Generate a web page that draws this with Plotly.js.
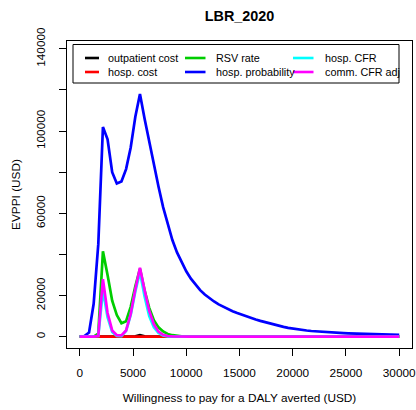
<!DOCTYPE html>
<html>
<head>
<meta charset="utf-8">
<script src="https://cdn.plot.ly/plotly-3.0.1.min.js"></script>
<style>
  html, body { margin: 0; padding: 0; background: #ffffff; }
  #chart { width: 416px; height: 410px; }
</style>
</head>
<body>
<div id="chart"></div>
<script>
// Willingness-to-pay grid (USD per DALY averted)
const wtp = [
  0, 435, 870, 1304, 1739, 2174, 2609, 3043, 3478, 3913,
  4348, 4783, 5217, 5652, 6087, 6522, 6957, 7391, 7826, 8261,
  8696, 9130, 9565, 10000, 10435, 10870, 11304, 11739, 12174, 12609,
  13043, 13478, 13913, 14348, 14783, 15217, 15652, 16087, 16522, 16957,
  17391, 17826, 18261, 18696, 19130, 19565, 20000, 20435, 20870, 21304,
  21739, 22174, 22609, 23043, 23478, 23913, 24348, 24783, 25217, 25652,
  26087, 26522, 26957, 27391, 27826, 28261, 28696, 29130, 29565, 30000
];

// EVPPI (USD) per parameter group
const outpatientCost = [
  0, 0, 0, 0, 0, 0, 0, 0, 0, 0,
  0, 0, 150, 700, 150, 0, 0, 0, 0, 0,
  0, 0, 0, 0, 0, 0, 0, 0, 0, 0,
  0, 0, 0, 0, 0, 0, 0, 0, 0, 0,
  0, 0, 0, 0, 0, 0, 0, 0, 0, 0,
  0, 0, 0, 0, 0, 0, 0, 0, 0, 0,
  0, 0, 0, 0, 0, 0, 0, 0, 0, 0
];
const hospCost = [
  0, 0, 0, 0, 0, 0, 0, 0, 0, 0,
  0, 0, 0, 0, 0, 0, 0, 0, 0, 0,
  0, 0, 0, 0, 0, 0, 0, 0, 0, 0,
  0, 0, 0, 0, 0, 0, 0, 0, 0, 0,
  0, 0, 0, 0, 0, 0, 0, 0, 0, 0,
  0, 0, 0, 0, 0, 0, 0, 0, 0, 0,
  0, 0, 0, 0, 0, 0, 0, 0, 0, 0
];
const rsvRate = [
  0, 0, 0, 0, 1500, 41500, 30000, 17500, 10500, 6500,
  7500, 14500, 24500, 33000, 22500, 14000, 8000, 4500, 2500, 1300,
  700, 350, 150, 60, 0, 0, 0, 0, 0, 0,
  0, 0, 0, 0, 0, 0, 0, 0, 0, 0,
  0, 0, 0, 0, 0, 0, 0, 0, 0, 0,
  0, 0, 0, 0, 0, 0, 0, 0, 0, 0,
  0, 0, 0, 0, 0, 0, 0, 0, 0, 0
];
const hospProbability = [
  0, 300, 2000, 16000, 45000, 102000, 96000, 80000, 74500, 75500,
  81500, 92000, 107000, 118000, 106000, 94500, 83500, 73000, 63000, 54500,
  47000, 41000, 36000, 31800, 28200, 25200, 22600, 20500, 18700, 17100,
  15700, 14500, 13400, 12400, 11500, 10650, 9850, 9100, 8350, 7650,
  7000, 6400, 5800, 5250, 4750, 4300, 3900, 3550, 3250, 2980,
  2750, 2550, 2380, 2220, 2080, 1950, 1820, 1700, 1590, 1490,
  1400, 1310, 1230, 1160, 1090, 1030, 970, 920, 870, 820
];
const hospCFR = [
  0, 0, 0, 0, 300, 22500, 9500, 2300, 300, 200,
  2800, 10500, 22000, 31500, 19500, 10000, 4500, 1800, 600, 150,
  0, 0, 0, 0, 0, 0, 0, 0, 0, 0,
  0, 0, 0, 0, 0, 0, 0, 0, 0, 0,
  0, 0, 0, 0, 0, 0, 0, 0, 0, 0,
  0, 0, 0, 0, 0, 0, 0, 0, 0, 0,
  0, 0, 0, 0, 0, 0, 0, 0, 0, 0
];
const commCFRAdj = [
  0, 0, 0, 0, 400, 28000, 11500, 3000, 700, 600,
  3000, 11000, 23000, 33500, 22500, 12500, 6000, 2500, 900, 300,
  100, 0, 0, 0, 0, 0, 0, 0, 0, 0,
  0, 0, 0, 0, 0, 0, 0, 0, 0, 0,
  0, 0, 0, 0, 0, 0, 0, 0, 0, 0,
  0, 0, 0, 0, 0, 0, 0, 0, 0, 0,
  0, 0, 0, 0, 0, 0, 0, 0, 0, 0
];

const seriesNames = ["outpatient cost", "hosp. cost", "RSV rate",
                     "hosp. probability", "hosp. CFR", "comm. CFR adj"];
const seriesValues = [outpatientCost, hospCost, rsvRate,
                      hospProbability, hospCFR, commCFRAdj];
const seriesColors = ["#000000", "#FF0000", "#00CD00",
                      "#0000FF", "#00FFFF", "#FF00FF"];

const yTickVals = [0, 20000, 40000, 60000, 80000, 100000, 120000, 140000];
const yTickText = ["0", "20000", "", "60000", "", "100000", "", "140000"];
const xTickVals = [0, 5000, 10000, 15000, 20000, 25000, 30000];

const FONT = "Liberation Sans, Arial, Helvetica, sans-serif";

const traces = seriesNames.map((name, i) => ({
  x: wtp,
  y: seriesValues[i],
  name: name,
  type: "scatter",
  mode: "lines",
  line: { color: seriesColors[i], width: 2.7 },
  showlegend: false,
  hoverinfo: "skip"
}));

// plot-area geometry in pixels
const W = 416, H = 410;
const M = { l: 67, r: 4, t: 41, b: 62 };
const plotW = W - M.l - M.r, plotH = H - M.t - M.b;
const px = v => (v - M.l) / plotW;
const py = v => (H - M.b - v) / plotH;

// three-column legend drawn inside the plot frame
const legendRows = [58, 72];
const legendLineX = [[85, 99], [185, 205.5], [293, 313.5]];
const legendTextX = [105.5, 214, 323];
const shapes = [{
  type: "rect", xref: "paper", yref: "paper",
  x0: px(73), x1: px(399), y0: py(83), y1: py(44.5),
  line: { color: "#000000", width: 1 }, fillcolor: "rgba(255,255,255,0)"
}];
const annotations = [];
seriesNames.forEach((name, i) => {
  const col = Math.floor(i / 2), row = i % 2;
  shapes.push({
    type: "line", xref: "paper", yref: "paper",
    x0: px(legendLineX[col][0]), x1: px(legendLineX[col][1]),
    y0: py(legendRows[row]), y1: py(legendRows[row]),
    line: { color: seriesColors[i], width: 2.6 }
  });
  annotations.push({
    xref: "paper", yref: "paper",
    x: px(legendTextX[col]), y: py(legendRows[row]),
    xanchor: "left", yanchor: "middle", showarrow: false,
    text: name, font: { family: FONT, size: 10.8, color: "#000000" }
  });
});

const layout = {
  width: W, height: H,
  margin: M,
  paper_bgcolor: "#ffffff",
  plot_bgcolor: "#ffffff",
  font: { family: FONT, size: 11.8, color: "#000000" },
  title: {
    text: "<b>LBR_2020</b>",
    font: { family: FONT, size: 14.4, color: "#000000" },
    x: 0.5, xref: "paper", xanchor: "center",
    y: 1 - 16 / H, yref: "container", yanchor: "middle"
  },
  xaxis: {
    range: [-1200, 31200],
    tickvals: xTickVals,
    ticktext: xTickVals.map(String),
    ticklabeloverflow: "allow",
    ticks: "outside", ticklen: 7, tickwidth: 1, tickcolor: "#000000",
    ticklabelstandoff: 7,
    showgrid: false, zeroline: false,
    showline: true, mirror: true, linecolor: "#000000", linewidth: 1,
    title: {
      text: "Willingness to pay for a DALY averted (USD)",
      font: { family: FONT, size: 11.8, color: "#000000" },
      standoff: 14
    }
  },
  yaxis: {
    range: [-5530, 143830],
    tickvals: yTickVals,
    ticktext: yTickText,
    tickangle: -90,
    ticklabeloverflow: "allow",
    ticks: "outside", ticklen: 7, tickwidth: 1, tickcolor: "#000000",
    ticklabelstandoff: 9,
    showgrid: false, zeroline: false,
    showline: true, mirror: true, linecolor: "#000000", linewidth: 1,
    title: {
      text: "EVPPI (USD)",
      font: { family: FONT, size: 11.8, color: "#000000" },
      standoff: 11
    }
  },
  shapes: shapes,
  annotations: annotations
};

Plotly.newPlot("chart", traces, layout, { displayModeBar: false, staticPlot: true });
</script>
</body>
</html>
